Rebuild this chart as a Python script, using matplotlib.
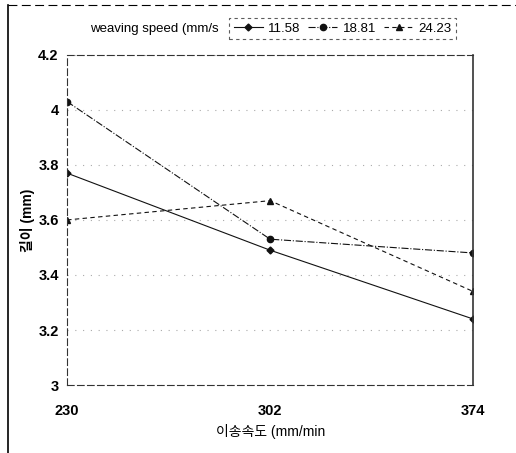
import numpy as np
import matplotlib
matplotlib.use("Agg")
import matplotlib.pyplot as plt

plt.rcParams['font.family'] = ['Liberation Sans', 'Noto Sans CJK KR', 'DejaVu Sans']

# data
feed_speed = [230, 302, 374]
series_labels = ['11.58', '18.81', '24.23']
length_1158 = [3.77, 3.49, 3.24]
length_1881 = [4.03, 3.53, 3.48]
length_2423 = [3.60, 3.67, 3.34]
y_ticks = [3.0, 3.2, 3.4, 3.6, 3.8, 4.0, 4.2]
y_tick_labels = ['3', '3.2', '3.4', '3.6', '3.8', '4', '4.2']

fig = plt.figure(figsize=(5.16, 4.53), dpi=100)
ax = fig.add_axes([0.130, 0.150, 0.787, 0.729])

styles = [('-', 'D', 3.5), ('-.', 'o', 4.5), ((0, (4, 3)), '^', 4.5)]
all_series = [length_1158, length_1881, length_2423]
for vals, lab, (ls, mk, ms) in zip(all_series, series_labels, styles):
    ax.plot(feed_speed, vals, color='#111111', linestyle=ls, linewidth=0.8,
            marker=mk, markersize=ms, label=lab)

ax.set_xlim(230, 374)
ax.set_ylim(3.0, 4.2)
ax.set_xticks(feed_speed)
ax.set_yticks(y_ticks)
ax.set_yticklabels(y_tick_labels)
ax.tick_params(axis='both', length=0, labelsize=10.5)
ax.tick_params(axis='x', pad=14)
ax.tick_params(axis='y', pad=6)
for t in ax.get_xticklabels() + ax.get_yticklabels():
    t.set_fontweight('bold')

ax.grid(axis='y', color='#aaaaaa', linestyle=(0, (1, 6)), linewidth=0.8)
for sp in ax.spines.values():
    sp.set_linestyle((0, (6, 3)))
    sp.set_linewidth(0.8)
    sp.set_color('#333333')
ax.spines['right'].set_linestyle('-')
ax.spines['right'].set_linewidth(1.2)

ax.set_xlabel('이송속도 (mm/min', fontsize=10, labelpad=4)
ax.set_ylabel('길이 (mm)', fontsize=10, fontweight='bold', labelpad=2)

fig.text(0.175, 0.937, 'weaving speed (mm/s', fontsize=9.5, va='center')
leg = fig.legend(loc='center', bbox_to_anchor=(0.664, 0.937), ncol=3,
                 fontsize=9.5, frameon=True, fancybox=False, handlelength=2.2,
                 handletextpad=0.4, columnspacing=0.6, borderpad=0.35)
leg.get_frame().set_edgecolor('#333333')
leg.get_frame().set_linestyle((0, (3, 3)))
leg.get_frame().set_linewidth(0.8)

# scanned page border
fig.add_artist(plt.Line2D([0.016, 0.016], [0.0, 0.99], color='black', linewidth=1.2,
                          transform=fig.transFigure))
fig.add_artist(plt.Line2D([0.016, 1.0], [0.99, 0.99], color='black', linewidth=0.8,
                          linestyle=(0, (8, 4)), transform=fig.transFigure))

fig.savefig('out.png', dpi=100)
